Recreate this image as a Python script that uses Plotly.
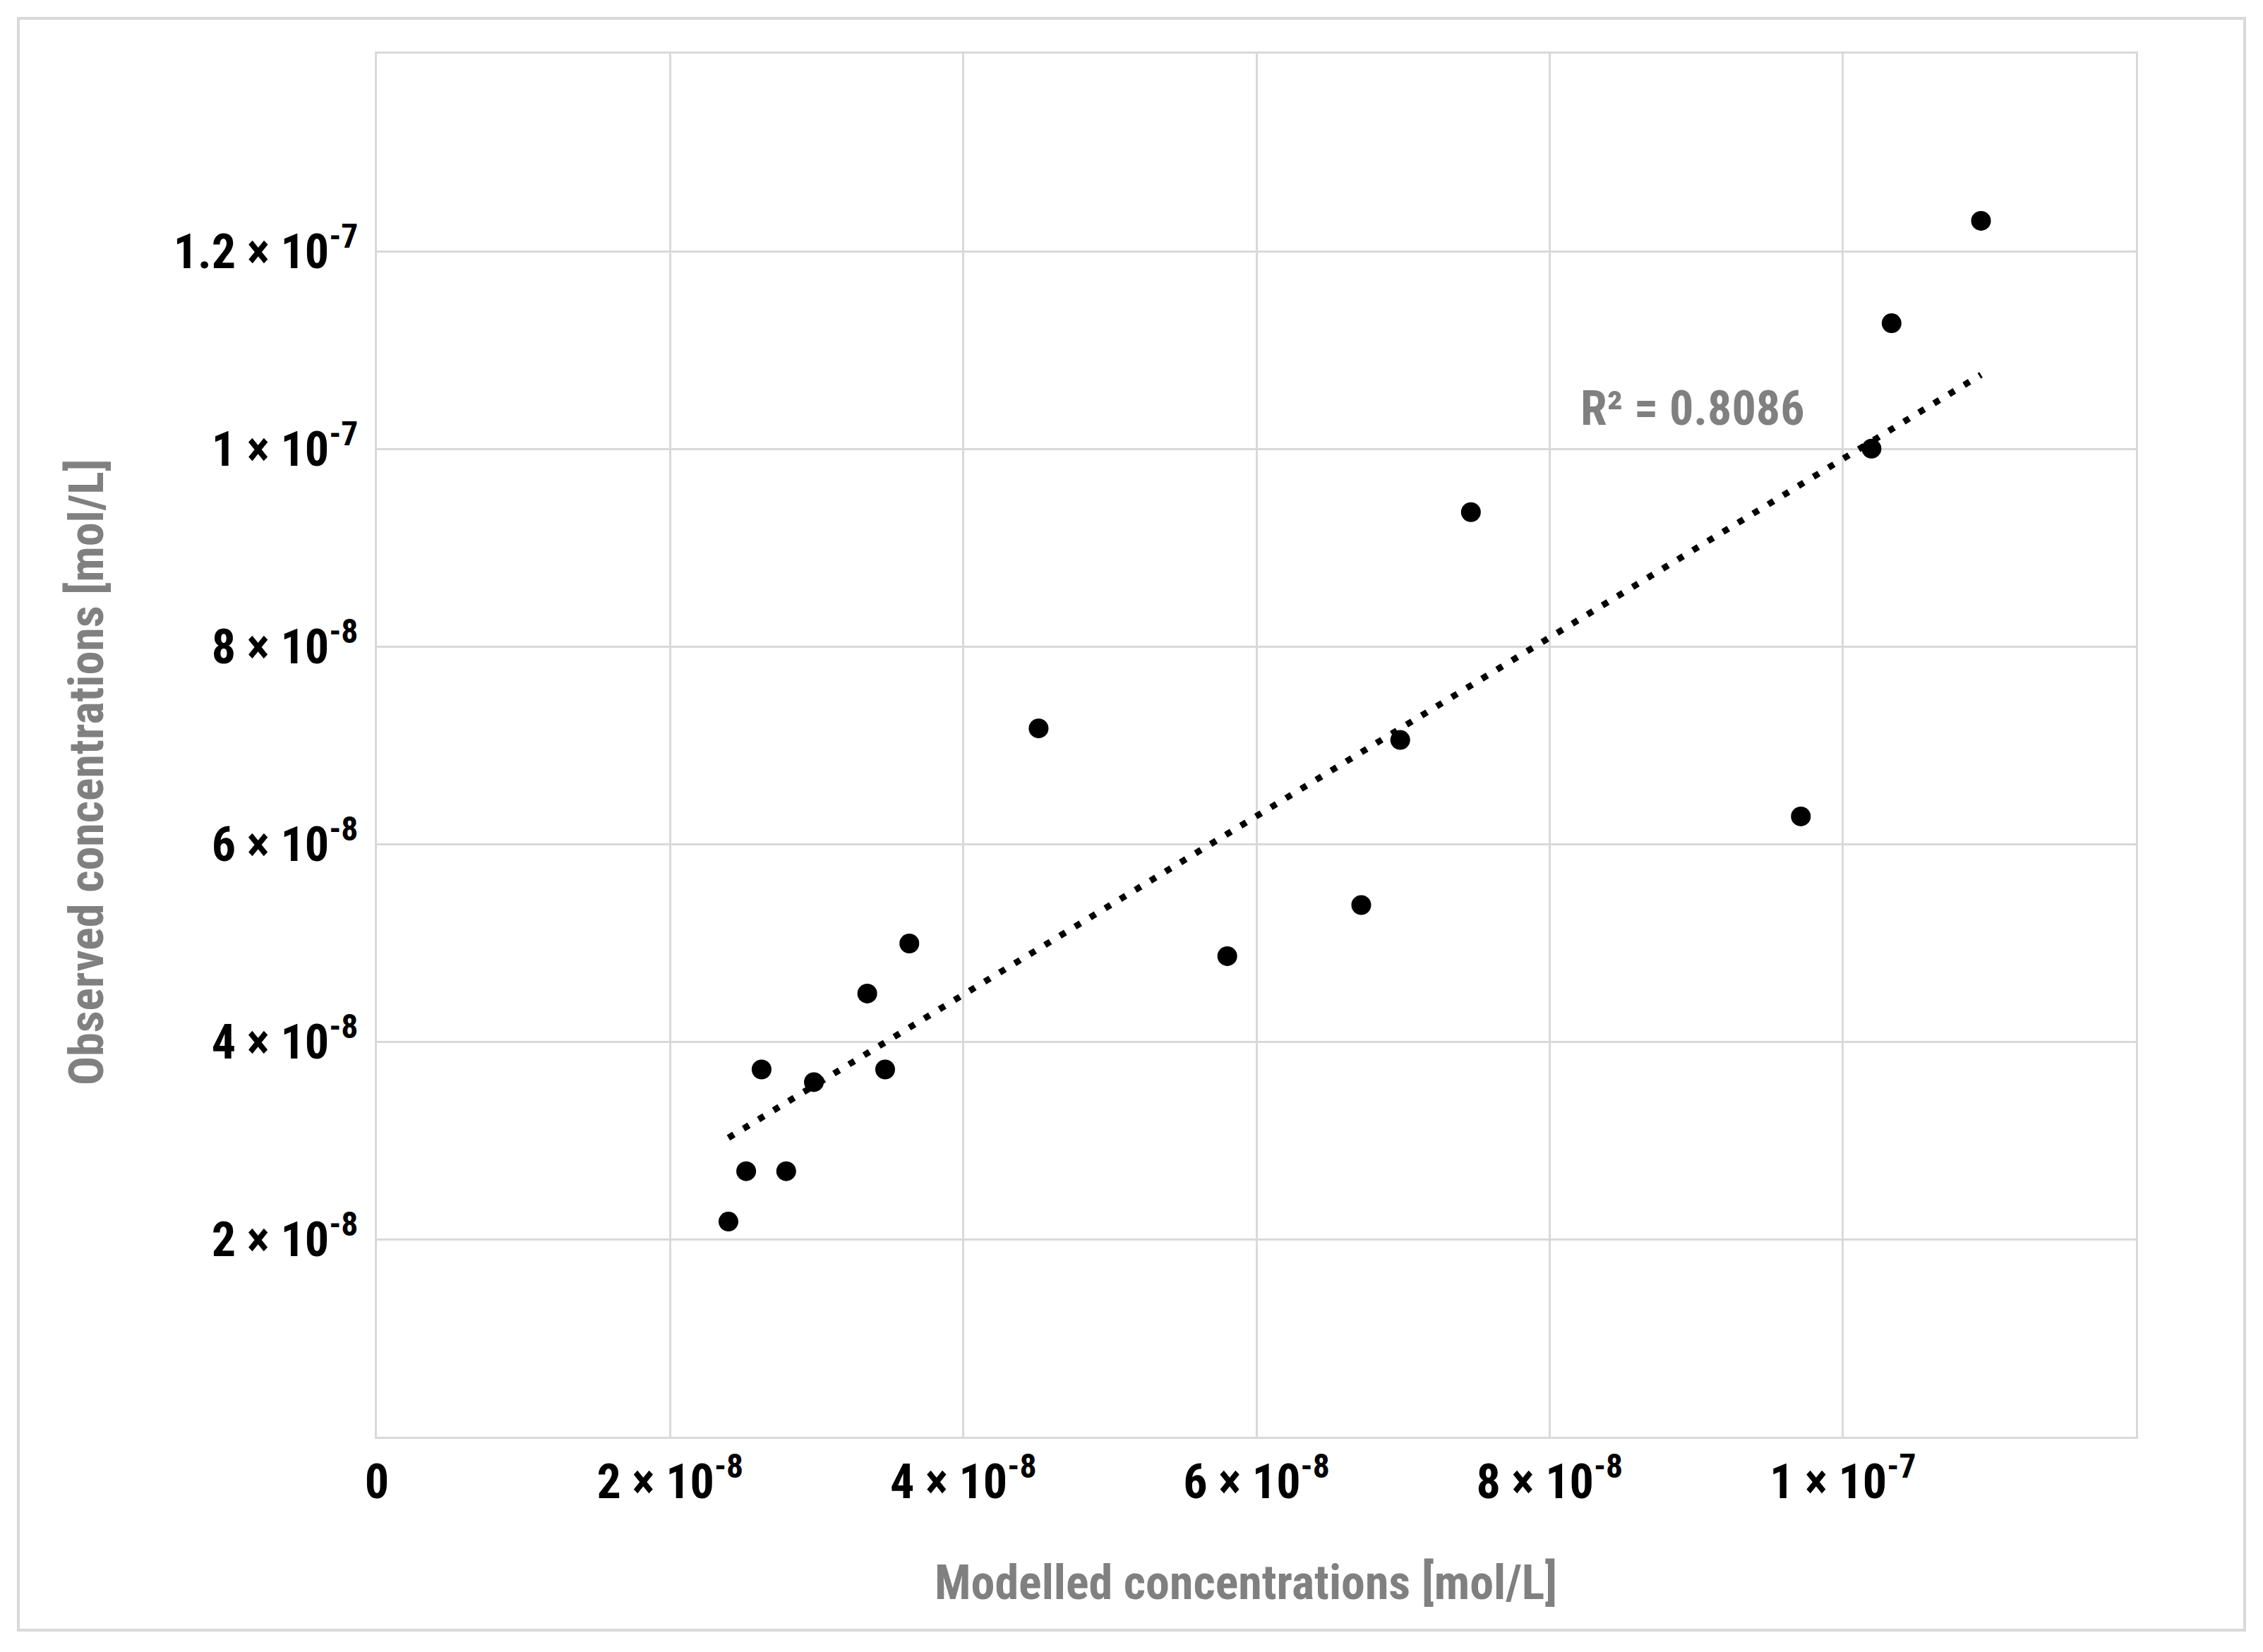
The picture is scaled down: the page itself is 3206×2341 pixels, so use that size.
import numpy as np
import plotly.graph_objects as go

# ---- data ----
modelled = [2.398e-8, 2.519e-8, 2.792e-8, 2.624e-8, 2.981e-8, 3.345e-8, 3.467e-8,
            3.632e-8, 4.514e-8, 5.801e-8, 6.715e-8, 6.981e-8, 7.463e-8, 9.714e-8,
            1.0196e-7, 1.0333e-7, 1.0943e-7]
observed = [2.178e-8, 2.688e-8, 2.688e-8, 3.718e-8, 3.590e-8, 4.486e-8, 3.718e-8,
            4.993e-8, 7.170e-8, 4.865e-8, 5.382e-8, 7.053e-8, 9.359e-8, 6.279e-8,
            1.0001e-7, 1.1271e-7, 1.2308e-7]

x_tickvals = [0, 2e-8, 4e-8, 6e-8, 8e-8, 1e-7]
x_ticktext = ["0", "2 × 10<sup>-8</sup>", "4 × 10<sup>-8</sup>", "6 × 10<sup>-8</sup>",
              "8 × 10<sup>-8</sup>", "1 × 10<sup>-7</sup>"]
y_tickvals = [2e-8, 4e-8, 6e-8, 8e-8, 1e-7, 1.2e-7]
y_ticktext = ["2 × 10<sup>-8</sup>", "4 × 10<sup>-8</sup>", "6 × 10<sup>-8</sup>",
              "8 × 10<sup>-8</sup>", "1 × 10<sup>-7</sup>", "1.2 × 10<sup>-7</sup>"]
r2_label = "R² = 0.8086"
x_title = "Modelled concentrations [mol/L]"
y_title = "Observed concentrations [mol/L]"

# ---- linear trendline ----
mx = np.array(modelled)
my = np.array(observed)
slope, intercept = np.polyfit(mx, my, 1)
tx = np.array([mx.min(), mx.max()])
ty = slope * tx + intercept

# ---- layout geometry (pixels, screen coordinates) ----
OFF = 8  # page body margin
W, H = 3206, 2341
PL, PT, PR, PB = 534, 76, 3026, 2036  # plot area on screen
L = PL - OFF
T = PT - OFF
pw, ph = PR - PL, PB - PT
R = W - L - pw
B = H - T - ph

def px_to_paper_x(px):
    return (px - PL) / pw

def px_to_paper_y(py):
    return (PB - py) / ph

FONT = "Liberation Sans Narrow, Roboto Condensed, Arial Narrow, Liberation Sans, sans-serif"
GRID = "#d9d9d9"
GRAY = "#808080"
FS = 68

fig = go.Figure()
fig.add_trace(go.Scatter(
    x=tx, y=ty, mode="lines",
    line=dict(color="black", width=9, dash="9px,16px"),
    showlegend=False, hoverinfo="skip"))
fig.add_trace(go.Scatter(
    x=modelled, y=observed, mode="markers",
    marker=dict(color="black", size=28),
    showlegend=False))

fig.update_layout(
    width=W, height=H,
    margin=dict(l=L, r=R, t=T, b=B),
    paper_bgcolor="white", plot_bgcolor="white",
    font=dict(family=FONT, size=FS, color="black"),
    xaxis=dict(range=[0, 1.2e-7], tickvals=x_tickvals, ticktext=x_ticktext,
               showgrid=True, gridcolor=GRID, gridwidth=3, zeroline=False,
               showline=True, linecolor=GRID, linewidth=3, mirror=True,
               ticks="", ticklabelstandoff=2,
               tickfont=dict(family=FONT, size=FS, color="black", weight="bold")),
    yaxis=dict(range=[0, 1.4e-7], tickvals=y_tickvals, ticktext=y_ticktext,
               showgrid=True, gridcolor=GRID, gridwidth=3, zeroline=False,
               showline=True, linecolor=GRID, linewidth=3, mirror=True,
               ticks="", ticklabelstandoff=10,
               tickfont=dict(family=FONT, size=FS, color="black", weight="bold")),
)

# outer chart border
fig.add_shape(type="rect", xref="paper", yref="paper",
              x0=px_to_paper_x(26), x1=px_to_paper_x(3180),
              y0=px_to_paper_y(2310), y1=px_to_paper_y(26),
              line=dict(color=GRID, width=4), fillcolor="rgba(0,0,0,0)", layer="below")

fig.add_annotation(text=x_title, xref="paper", yref="paper",
                   x=px_to_paper_x(1765), y=px_to_paper_y(2243),
                   xanchor="center", yanchor="middle", showarrow=False,
                   font=dict(family=FONT, size=FS, color=GRAY, weight="bold"))
fig.add_annotation(text=y_title, xref="paper", yref="paper",
                   x=px_to_paper_x(123), y=px_to_paper_y(1094), textangle=-90,
                   xanchor="center", yanchor="middle", showarrow=False,
                   font=dict(family=FONT, size=FS, color=GRAY, weight="bold"))
fig.add_annotation(text=r2_label, xref="x", yref="y",
                   x=8.975e-8, y=1.0408e-7, xanchor="center", yanchor="middle",
                   showarrow=False,
                   font=dict(family=FONT, size=FS, color=GRAY, weight="bold"))

fig.write_html("out.html")
